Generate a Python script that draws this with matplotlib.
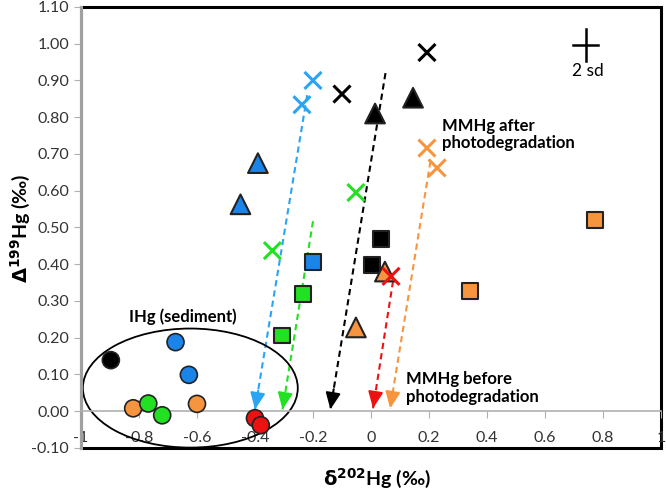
import matplotlib.pyplot as plt
from matplotlib.patches import Ellipse, Rectangle

plt.rcParams['font.family'] = ['Lato', 'DejaVu Sans']

# colours used in the figure
BLUE = '#1a84e8'
BLUE_X = '#2aa4f4'
GREEN = '#22e022'
ORANGE = '#f7953f'
RED = '#ee1111'
BLACK = '#000000'

# IHg (sediment) circles
circ_x = [-0.897, -0.674, -0.628, -0.82, -0.768, -0.72, -0.60, -0.40, -0.38]
circ_y = [0.139, 0.188, 0.099, 0.008, 0.021, -0.011, 0.02, -0.019, -0.038]
circ_c = [BLACK, BLUE, BLUE, ORANGE, GREEN, GREEN, ORANGE, RED, RED]

# squares
sq_x = [-0.20, -0.235, -0.307, 0.034, 0.003, 0.341, 0.772]
sq_y = [0.407, 0.32, 0.206, 0.469, 0.397, 0.327, 0.52]
sq_c = [BLUE, GREEN, GREEN, BLACK, BLACK, ORANGE, ORANGE]

# triangles
tri_x = [-0.39, -0.45, 0.014, 0.145, 0.048, -0.052]
tri_y = [0.675, 0.563, 0.81, 0.853, 0.38, 0.228]
tri_c = [BLUE, BLUE, BLACK, BLACK, ORANGE, ORANGE]

# crosses (MMHg after photodegradation)
x_x = [-0.238, -0.20, 0.193, -0.10, 0.193, 0.228, -0.052, -0.34, 0.069]
x_y = [0.834, 0.90, 0.976, 0.863, 0.716, 0.662, 0.595, 0.437, 0.367]
x_c = [BLUE_X, BLUE_X, BLACK, BLACK, ORANGE, ORANGE, GREEN, GREEN, RED]

# dashed arrows: start -> end
arr_x0 = [-0.22, -0.20, 0.05, 0.205, 0.076]
arr_y0 = [0.86, 0.517, 0.92, 0.68, 0.354]
arr_x1 = [-0.40, -0.305, -0.14, 0.066, 0.007]
arr_y1 = [0.005, 0.005, 0.005, 0.008, 0.008]
arr_c = [BLUE_X, GREEN, BLACK, ORANGE, RED]

xticks = [-1, -0.8, -0.6, -0.4, -0.2, 0, 0.2, 0.4, 0.6, 0.8, 1]
xtick_labels = ['-1', '-0.8', '-0.6', '-0.4', '-0.2', '0', '0.2', '0.4', '0.6', '0.8', '1']
yticks = [-0.1, 0, 0.1, 0.2, 0.3, 0.4, 0.5, 0.6, 0.7, 0.8, 0.9, 1.0, 1.1]

fig = plt.figure(figsize=(6.66, 4.96), dpi=100)
ax = fig.add_axes([0.1216, 0.0968, 0.8709, 0.8892])
ax.set_xlim(-1, 1)
ax.set_ylim(-0.1, 1.1)

# plot area border
ax.add_patch(Rectangle((0, 0), 1, 1, transform=ax.transAxes, fill=False,
                       edgecolor='black', lw=2.2, zorder=1, clip_on=False))

for x0, y0, x1, y1, c in zip(arr_x0, arr_y0, arr_x1, arr_y1, arr_c):
    ax.plot([x0, x1], [y0, y1], ls=(0, (3, 2)), color=c, lw=1.5, zorder=2)
    dx, dy = x1 - x0, y1 - y0
    ax.annotate('', xy=(x1, y1), xytext=(x1 - dx * 0.06, y1 - dy * 0.06),
                arrowprops=dict(arrowstyle='-|>,head_length=1.0,head_width=0.45',
                                color=c, lw=1.5, shrinkA=0, shrinkB=0), zorder=3)

ax.add_patch(Ellipse((-0.623, 0.063), 0.741, 0.324, fill=False,
                     edgecolor='black', lw=1.3, zorder=2))

ax.scatter(circ_x, circ_y, s=150, c=circ_c, edgecolors='#222222', linewidths=1.2, zorder=4)
ax.scatter(sq_x, sq_y, s=130, marker='s', c=sq_c, edgecolors='#222222', linewidths=1.5, zorder=4)
ax.scatter(tri_x, tri_y, s=200, marker='^', c=tri_c, edgecolors='#222222', linewidths=1.5, zorder=4)
ax.scatter(x_x, x_y, s=150, marker='x', c=x_c, linewidths=2.2, zorder=4)

# 2 sd cross
ax.plot([0.697, 0.783], [0.997, 0.997], color='black', lw=1.8)
ax.plot([0.74, 0.74], [0.953, 1.041], color='black', lw=1.8)
ax.text(0.748, 0.925, '2 sd', ha='center', va='center', fontsize=12.5)

ax.text(-0.648, 0.257, 'IHg (sediment)', ha='center', va='center',
        fontsize=12, fontweight='bold')
ax.text(0.245, 0.753, 'MMHg after\nphotodegradation', ha='left', va='center',
        fontsize=12, fontweight='bold', linespacing=1.15)
ax.text(0.12, 0.062, 'MMHg before\nphotodegradation', ha='left', va='center',
        fontsize=12, fontweight='bold', linespacing=1.15)

ax.spines['top'].set_visible(False)
ax.spines['right'].set_visible(False)
ax.spines['left'].set_color('#a0a0a0')
ax.spines['left'].set_linewidth(2.2)
ax.spines['bottom'].set_position(('data', 0))
ax.spines['bottom'].set_color('#b0b0b0')
ax.spines['bottom'].set_linewidth(1.2)

ax.set_xticks(xticks)
ax.set_xticklabels(xtick_labels)
ax.set_yticks(yticks)
ax.set_yticklabels([f'{v:.2f}' for v in yticks])
ax.tick_params(axis='both', direction='out', length=5, color='#b0b0b0',
               labelsize=11.5, labelcolor='#333333')
ax.tick_params(axis='x', pad=9)

fig.text(0.566, 0.036, r'$\mathbf{\delta}^{\mathbf{202}}$Hg (‰)', ha='center', va='center',
         fontsize=14, fontweight='bold')
fig.text(0.03, 0.54, r'$\mathbf{\Delta}^{\mathbf{199}}$Hg (‰)', ha='center', va='center',
         fontsize=14, fontweight='bold', rotation=90)

fig.savefig('out.png', dpi=100)
